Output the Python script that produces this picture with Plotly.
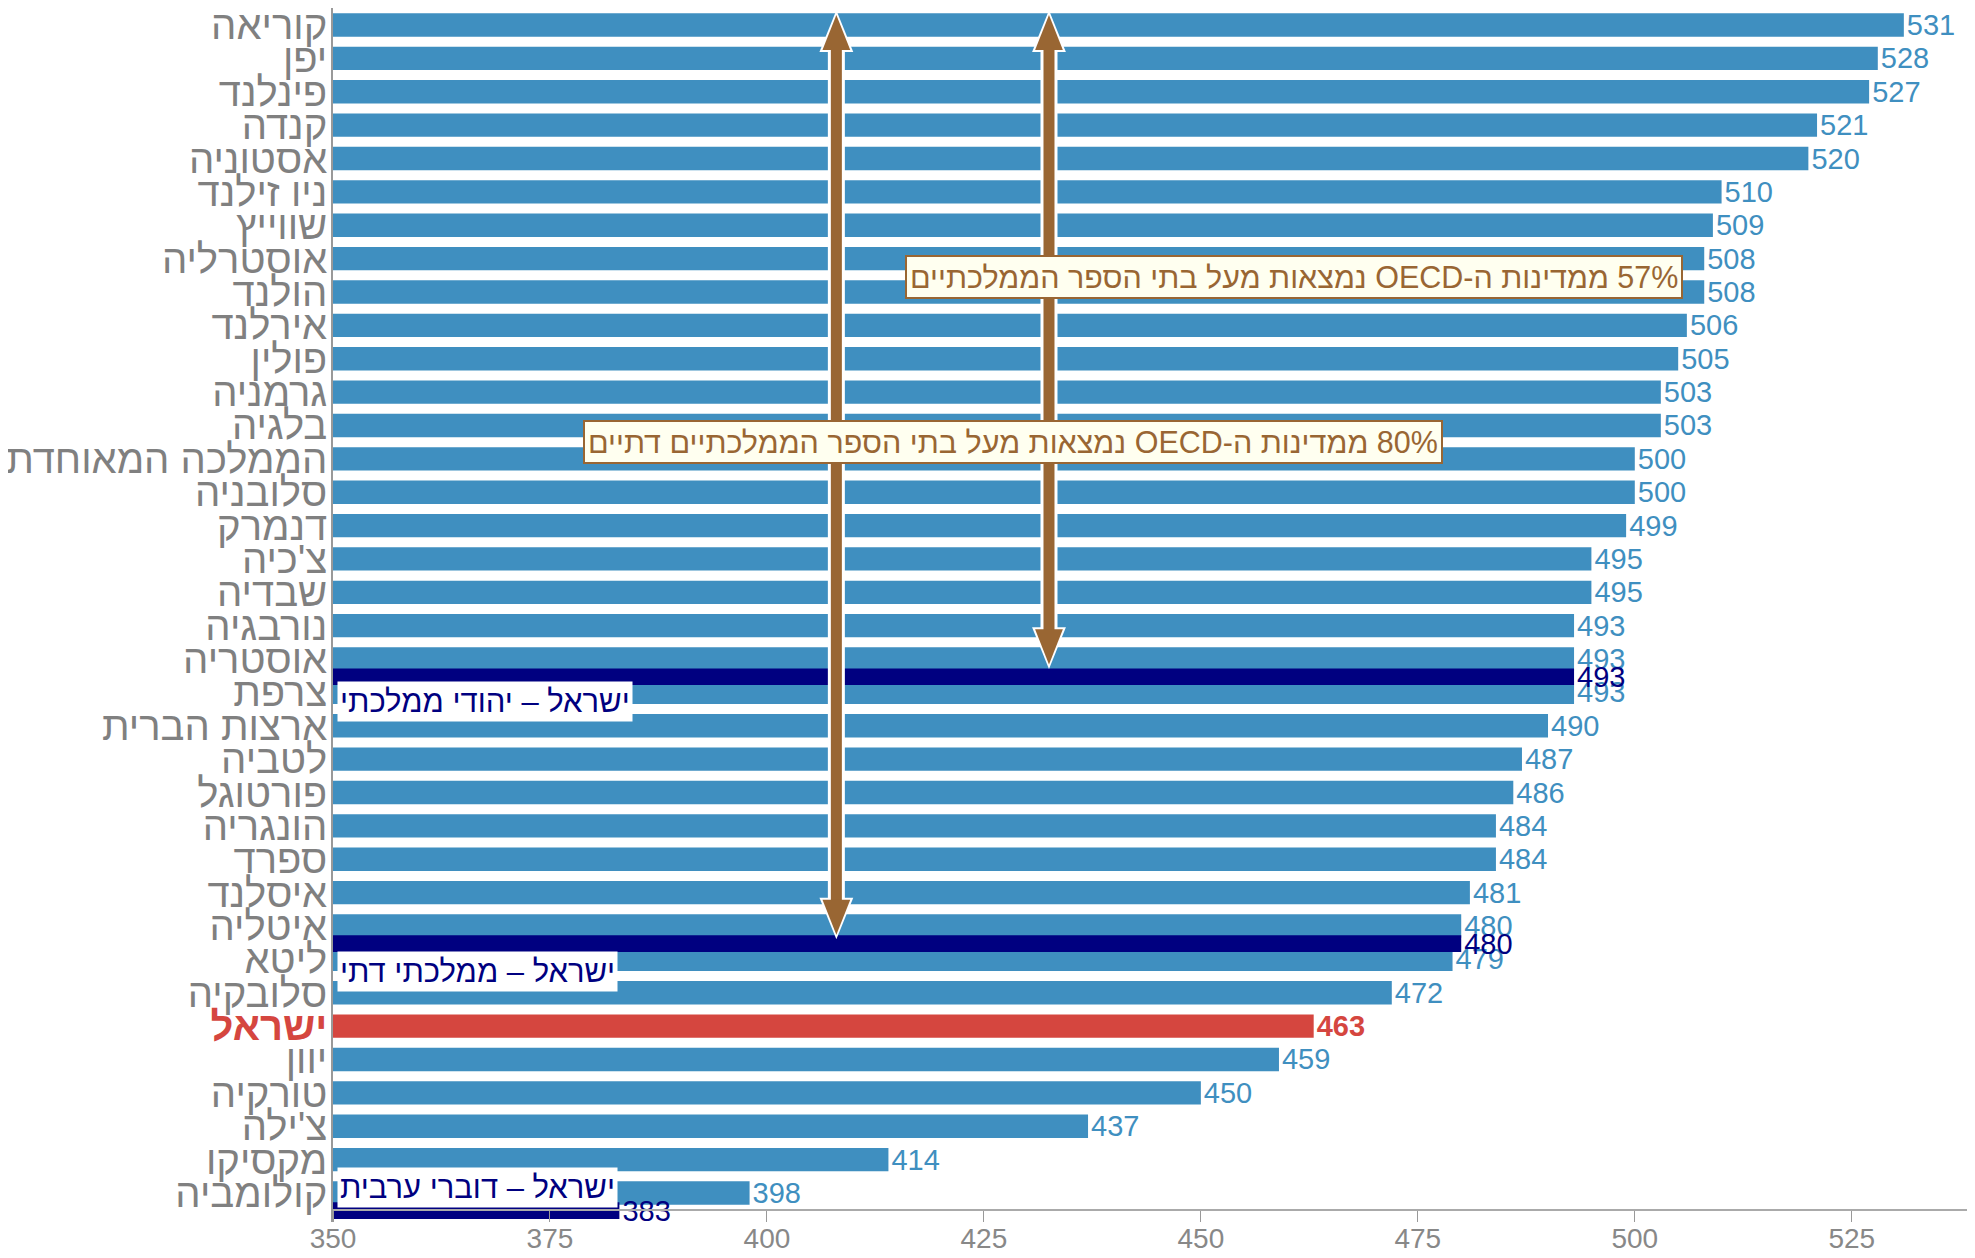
import plotly.graph_objects as go

# ---------------- data ----------------
countries = ["קוריאה", "יפן", "פינלנד", "קנדה", "אסטוניה", "ניו זילנד", "שווייץ", "אוסטרליה",
             "הולנד", "אירלנד", "פולין", "גרמניה", "בלגיה", "הממלכה המאוחדת", "סלובניה", "דנמרק",
             "צ'כיה", "שבדיה", "נורבגיה", "אוסטריה", "צרפת", "ארצות הברית", "לטביה", "פורטוגל",
             "הונגריה", "ספרד", "איסלנד", "איטליה", "ליטא", "סלובקיה", "ישראל", "יוון", "טורקיה",
             "צ'ילה", "מקסיקו", "קולומביה"]
scores = [531, 528, 527, 521, 520, 510, 509, 508, 508, 506, 505, 503, 503, 500, 500, 499,
          495, 495, 493, 493, 493, 490, 487, 486, 484, 484, 481, 480, 479, 472, 463, 459, 450,
          437, 414, 398]
highlight = "ישראל"

sub_labels = ["ישראל – יהודי ממלכתי", "ישראל – ממלכתי דתי", "ישראל – דוברי ערבית"]
sub_scores = [493, 480, 383]
sub_after = ["אוסטריה", "איטליה", "קולומביה"]   # subgroup bar sits just below this country

note_57 = "57% ממדינות ה-OECD נמצאות מעל בתי הספר הממלכתיים"
note_80 = "80% ממדינות ה-OECD נמצאות מעל בתי הספר הממלכתיים דתיים"

x_ticks = [350, 375, 400, 425, 450, 475, 500, 525]

# ---------------- style ----------------
BLUE = "#3f8fc0"
RED = "#d5463f"
NAVY = "#000080"
BROWN = "#996633"
GREY = "#808080"
FONT = "Liberation Sans, Arial, sans-serif"
RLE, PDF = "\u202b", "\u202c"

y_idx = list(range(len(countries)))
bar_colors = [RED if c == highlight else BLUE for c in countries]
text_colors = bar_colors
bar_text = [f"<b>{s}</b>" if c == highlight else str(s) for c, s in zip(countries, scores)]
tick_text = [f"<b><span style='color:{RED}'>{c}</span></b>" if c == highlight else c for c in countries]

SUB_OFF = 0.53
sub_y = [countries.index(c) + SUB_OFF for c in sub_after]

Y_TOP, Y_BOT = -0.51, 35.87

fig = go.Figure()
fig.add_trace(go.Bar(
    y=y_idx, x=scores, orientation="h", width=0.7,
    marker=dict(color=bar_colors, line=dict(width=0)),
    text=bar_text, textposition="outside", constraintext="none", cliponaxis=False,
    textfont=dict(color=text_colors, size=29, family=FONT),
    hoverinfo="skip", showlegend=False,
))
fig.add_trace(go.Bar(
    y=sub_y, x=sub_scores, orientation="h", width=0.5,
    marker=dict(color=NAVY, line=dict(width=0)),
    text=[str(s) for s in sub_scores], textposition="outside", constraintext="none", cliponaxis=False,
    textfont=dict(color=NAVY, size=29, family=FONT),
    hoverinfo="skip", showlegend=False,
))

# ---------------- arrows (shapes) ----------------
shapes = []
def arrow(x, y_top, y_bot):
    hl, hw = 1.05, 1.6       # head length (y units) / half width (x units)
    ox, oy = 0.35, 0.14      # white outline extension
    shapes.append(dict(type="line", xref="x", yref="y", x0=x, x1=x, y0=y_top + hl, y1=y_bot - hl,
                       line=dict(color="white", width=17)))
    shapes.append(dict(type="path", xref="x", yref="y",
                       path=f"M {x-hw-ox},{y_top+hl+0.06} L {x},{y_top-oy} L {x+hw+ox},{y_top+hl+0.06} Z",
                       fillcolor="white", line=dict(width=0)))
    shapes.append(dict(type="path", xref="x", yref="y",
                       path=f"M {x-hw-ox},{y_bot-hl-0.06} L {x},{y_bot+oy} L {x+hw+ox},{y_bot-hl-0.06} Z",
                       fillcolor="white", line=dict(width=0)))
    shapes.append(dict(type="line", xref="x", yref="y", x0=x, x1=x, y0=y_top + hl - 0.05, y1=y_bot - hl + 0.05,
                       line=dict(color=BROWN, width=11)))
    shapes.append(dict(type="path", xref="x", yref="y",
                       path=f"M {x-hw},{y_top+hl} L {x},{y_top} L {x+hw},{y_top+hl} Z",
                       fillcolor=BROWN, line=dict(width=0)))
    shapes.append(dict(type="path", xref="x", yref="y",
                       path=f"M {x-hw},{y_bot-hl} L {x},{y_bot} L {x+hw},{y_bot-hl} Z",
                       fillcolor=BROWN, line=dict(width=0)))

arrow(408, -0.3, sub_y[1] - 0.27)
arrow(432.5, -0.3, sub_y[0] - 0.37)

# ---------------- annotations ----------------
annotations = [
    dict(x=460.7, y=7.55, xref="x", yref="y", text=RLE + note_57 + PDF, showarrow=False,
         font=dict(color=BROWN, size=30.5, family=FONT), bgcolor="#fffff0",
         bordercolor=BROWN, borderwidth=2, borderpad=3),
    dict(x=428.4, y=12.51, xref="x", yref="y", text=RLE + note_80 + PDF, showarrow=False,
         font=dict(color=BROWN, size=30.5, family=FONT), bgcolor="#fffff0",
         bordercolor=BROWN, borderwidth=2, borderpad=3),
]
label_off = [0.74, 0.84, -0.69]
for lab, yy, off in zip(sub_labels, sub_y, label_off):
    annotations.append(dict(x=350.45, y=yy + off, xref="x", yref="y", text=lab, showarrow=False,
                            xanchor="left", font=dict(color=NAVY, size=31, family=FONT),
                            bgcolor="white", borderpad=2))

axis_pos = (Y_BOT - 35.5) / (Y_BOT - Y_TOP)

fig.update_layout(
    width=1967, height=1250,
    margin=dict(l=325, r=0, t=0, b=36),
    plot_bgcolor="white", paper_bgcolor="white",
    barmode="overlay",
    font=dict(family=FONT),
    shapes=shapes, annotations=annotations,
    xaxis=dict(range=[350, 539.2], tickvals=x_ticks, ticks="outside", ticklen=11,
               tickcolor="#999999", tickwidth=1, showline=True, linecolor="#aaaaaa", linewidth=2,
               tickfont=dict(size=28, color="#888888", family=FONT), showgrid=False, zeroline=False,
               anchor="free", position=axis_pos, automargin=False, ticklabelstandoff=-7,
               ticklabeloverflow="allow"),
    yaxis=dict(range=[Y_BOT, Y_TOP], tickvals=y_idx, ticktext=tick_text, ticks="",
               showline=True, linecolor="#999999", linewidth=1.5, showgrid=False, zeroline=False,
               tickfont=dict(size=40, color=GREY, family=FONT), ticklabelstandoff=-4,
               ticklabeloverflow="allow", automargin=False),
)

fig.write_html("out.html")
